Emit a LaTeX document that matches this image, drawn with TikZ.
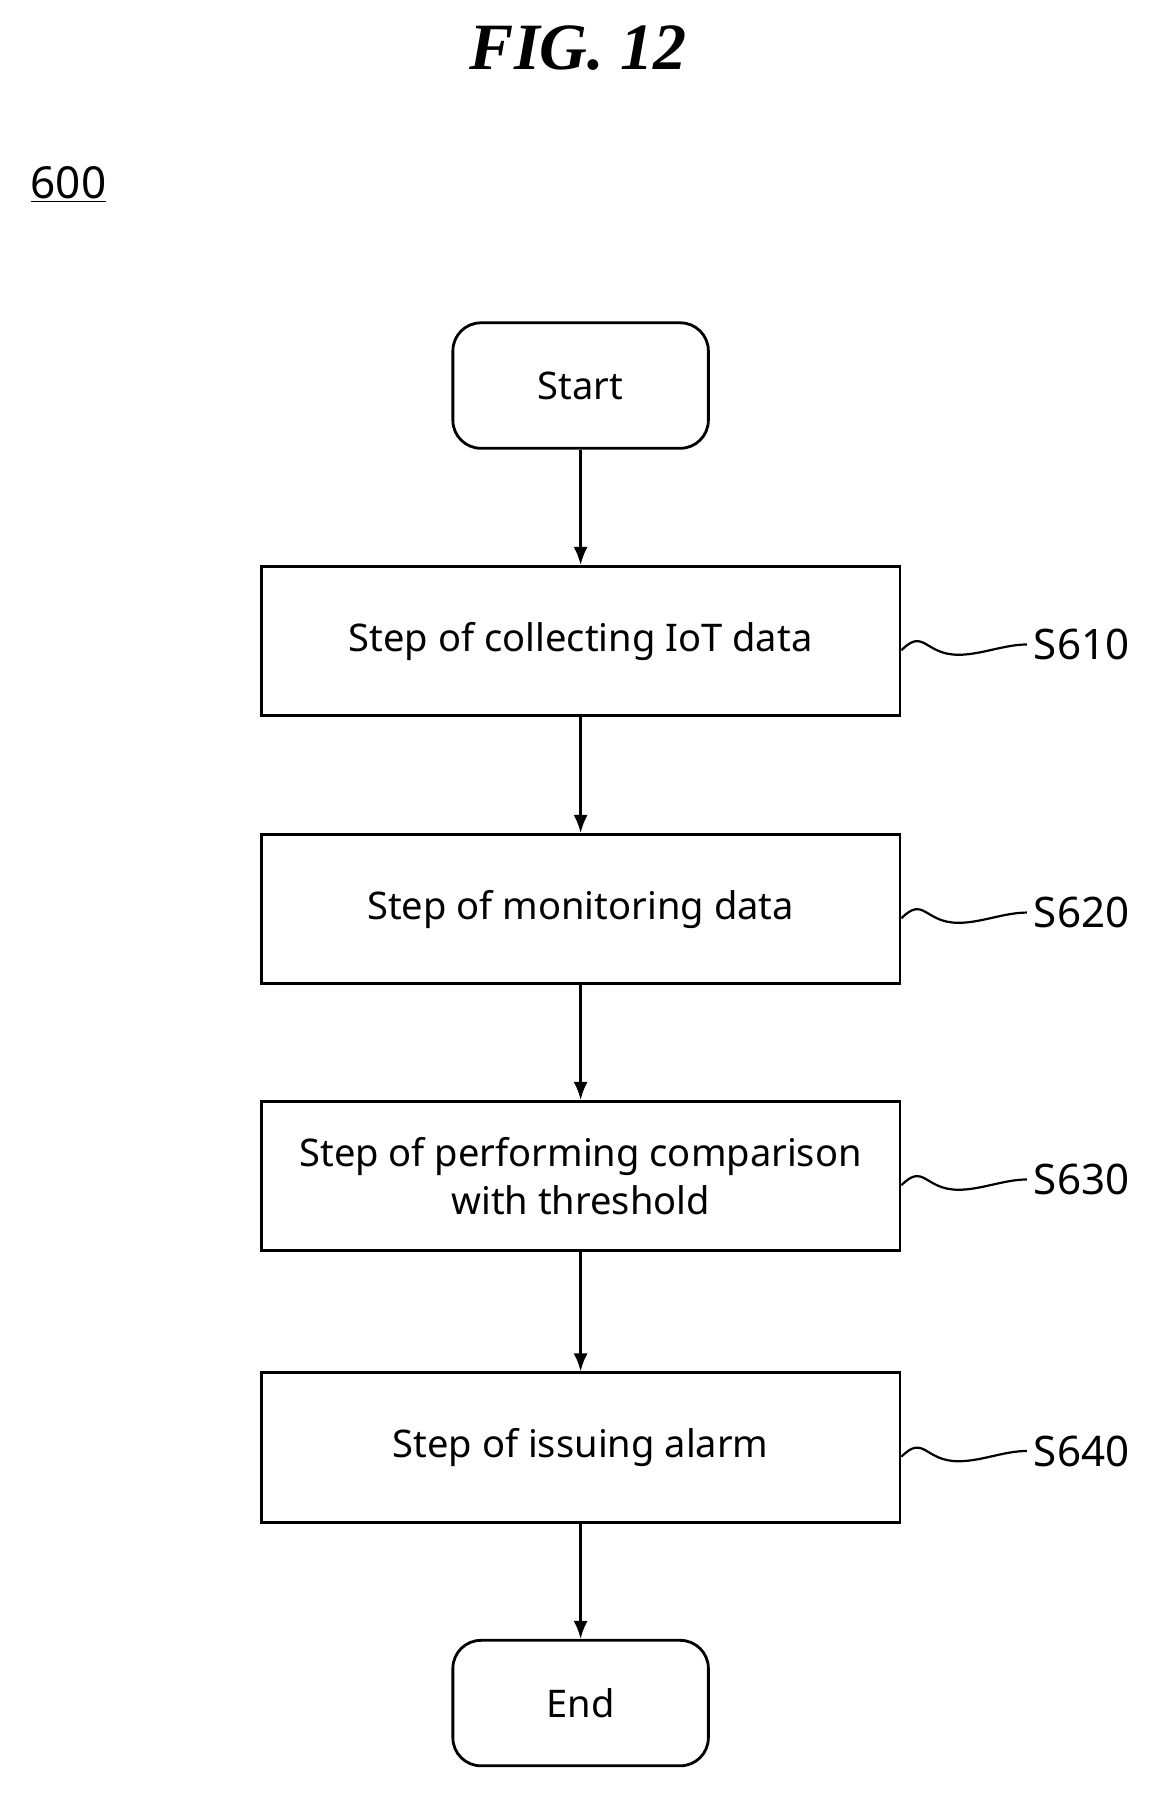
\documentclass[tikz,border=0pt]{standalone}
\usepackage{fontspec}
\setmainfont{Noto Sans}
\newfontfamily\titlefont{Liberation Serif}
\usetikzlibrary{arrows.meta}
\begin{document}
\begin{tikzpicture}[x=0.02cm,y=-0.02cm,
 box/.style={draw,line width=1.4pt,minimum width=560*0.02cm,minimum height=131*0.02cm,align=center,font=\fontsize{19}{24}\selectfont\bfseries,inner sep=0},
 term/.style={box,rounded corners=14pt,minimum width=224*0.02cm,minimum height=110*0.02cm},
 arr/.style={-{Latex[length=9pt,width=7pt]},line width=1.2pt},
 lab/.style={font=\fontsize{21}{24}\selectfont\bfseries,anchor=west}]
\useasboundingbox (0,0) rectangle (1024,1585);
\node[font=\titlefont\fontsize{33}{36}\selectfont\bfseries\itshape] (t) at (507,42) {FIG. 12};
\node[font=\fontsize{22}{26}\selectfont\bfseries] (n) at (60,162) {\underline{600}};
\node[term] (s) at (509,338) {Start};
\node[box] (a) at (509,562) {Step of collecting IoT data};
\node[box] (b) at (509,797) {Step of monitoring data};
\node[box] (c) at (509,1031) {Step of performing comparison\\with threshold};
\node[box] (d) at (509,1269) {Step of issuing alarm};
\node[term] (e) at (509,1493) {End};
\draw[arr] (s) -- (a); \draw[arr] (a) -- (b); \draw[arr] (b) -- (c); \draw[arr] (c) -- (d); \draw[arr] (d) -- (e);
\foreach \n/\t in {a/S610,b/S620,c/S630,d/S640}{
 \node[lab] (l\n) at ([xshift=110*0.02cm,yshift=-3*0.02cm]\n.east) {\t};
 \draw[line width=1.1pt] ([yshift=-8*0.02cm]\n.east) .. controls +(20,-20) and +(-30,0) .. ++(50,4) .. controls +(20,0) and +(-20,0) .. (l\n.west);
}
\end{tikzpicture}
\end{document}
